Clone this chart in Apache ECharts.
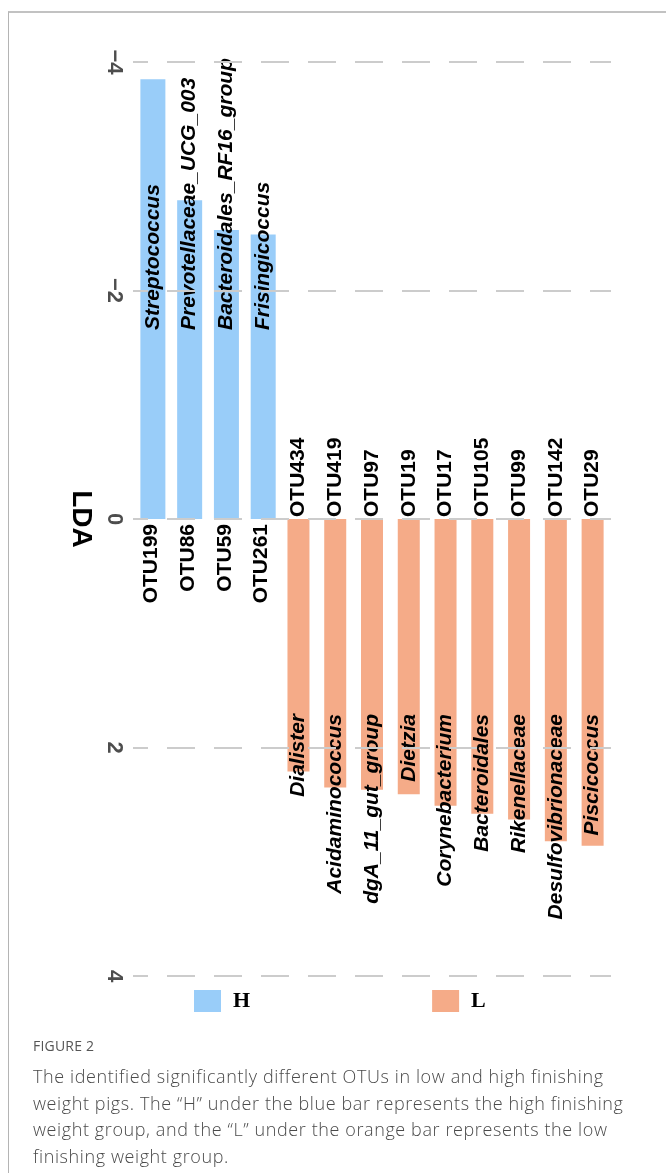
<!DOCTYPE html>
<html>
<head>
<meta charset="utf-8">
<script src="https://cdn.jsdelivr.net/npm/echarts@6/dist/echarts.min.js"></script>
<style>
  html, body { margin: 0; padding: 0; background: #fff; overflow: hidden; }
  body { width: 666px; height: 1173px; position: relative; }
  #frame { position: absolute; left: 8px; top: 11px; width: 700px; height: 1200px;
           border-left: 1px solid #b4b4b4; border-top: 2px solid #c2c2c2; }
  #chart { position: absolute; left: 0; top: 0; width: 666px; height: 1173px; }
  .fig { position: absolute; left: 33px; top: 1036px; font-family: "Open Sans", sans-serif;
         font-size: 14px; color: #555; letter-spacing: 0.2px; }
  .cap { position: absolute; left: 33px; top: 1063px; font-family: "Open Sans", sans-serif;
         font-weight: 300; font-size: 18px; letter-spacing: 0.6px; line-height: 26.7px;
         color: #4a4a4a; white-space: nowrap; }
</style>
</head>
<body>
<div id="frame"></div>
<div id="chart"></div>
<div class="fig">FIGURE 2</div>
<div class="cap">The identified significantly different OTUs in low and high finishing<br>weight pigs. The “H” under the blue bar represents the high finishing<br>weight group, and the “L” under the orange bar represents the low<br>finishing weight group.</div>
<script>
// OTUs in plotting order
const otuIds = ['OTU199', 'OTU86', 'OTU59', 'OTU261', 'OTU434', 'OTU419', 'OTU97',
                'OTU19', 'OTU17', 'OTU105', 'OTU99', 'OTU142', 'OTU29'];
// taxon annotation of each OTU
const genera = ['Streptococcus', 'Prevotellaceae_UCG_003', 'Bacteroidales_RF16_group', 'Frisingicoccus',
                'Dialister', 'Acidaminococcus', 'dgA_11_gut_group', 'Dietzia', 'Corynebacterium',
                'Bacteroidales', 'Rikenellaceae', 'Desulfovibrionaceae', 'Piscicoccus'];
// enriched group: H = high finishing weight, L = low finishing weight
const groups = ['H', 'H', 'H', 'H', 'L', 'L', 'L', 'L', 'L', 'L', 'L', 'L', 'L'];
// signed LDA scores (H negative, L positive)
const ldaScores = [-3.85, -2.79, -2.53, -2.49, 2.21, 2.35, 2.37, 2.41, 2.51, 2.58, 2.63, 2.82, 2.86];
// value-axis ticks
const ldaMin = -4, ldaMax = 4, ldaStep = 2;

const colorH = '#99cdf9';
const colorL = '#f5ab88';

const seriesData = g => ldaScores.map((v, i) => (groups[i] === g ? v : null));

const sans = 'Liberation Sans, Arial, sans-serif';
const labelFont = { fontFamily: sans, fontWeight: 'bold', fontSize: 21, color: '#000' };

// plot area (pixels)
const gridTop = 62, gridBottom = 197, gridHeight = 1173 - gridTop - gridBottom;
// shift the category label rows from the grid edges onto the LDA = 0 line
const zeroShift = -gridHeight * (0 - ldaMin) / (ldaMax - ldaMin);

const chart = echarts.init(document.getElementById('chart'), null, { renderer: 'canvas' });

chart.setOption({
  animation: false,
  grid: { left: 133, right: 55, top: gridTop, bottom: gridBottom, containLabel: false, outerBoundsMode: 'none' },
  legend: {
    data: ['H', 'L'],
    left: 194, top: 990, padding: 0,
    icon: 'rect', itemWidth: 27, itemHeight: 22, itemGap: 182,
    selectedMode: false,
    textStyle: { fontFamily: 'Liberation Serif, Times New Roman, serif', fontWeight: 'bold',
                 fontSize: 22, color: '#000', padding: [0, 0, 0, 7] }
  },
  xAxis: [
    {
      // OTU ids of the H group, hanging below the zero line
      type: 'category', data: otuIds, position: 'bottom', offset: zeroShift,
      axisLine: { show: false, onZero: false },
      axisTick: { show: false }, splitLine: { show: false },
      axisLabel: Object.assign({ rotate: 90, margin: 5, interval: 0,
        formatter: (v, i) => (groups[i] === 'H' ? v : '') }, labelFont)
    },
    {
      // OTU ids of the L group, standing above the zero line
      type: 'category', data: otuIds, position: 'top', offset: zeroShift,
      axisLine: { show: false, onZero: false },
      axisTick: { show: false }, splitLine: { show: false },
      axisLabel: Object.assign({ rotate: -90, margin: 2, interval: 0,
        formatter: (v, i) => (groups[i] === 'L' ? v : '') }, labelFont)
    }
  ],
  yAxis: {
    type: 'value', inverse: true, min: ldaMin, max: ldaMax, interval: ldaStep, z: 3,
    name: 'LDA', nameLocation: 'middle', nameGap: 36, nameRotate: -90,
    nameTextStyle: { fontFamily: sans, fontWeight: 'bold', fontSize: 28, color: '#000' },
    axisLine: { show: false }, axisTick: { show: false },
    axisLabel: { rotate: -90, margin: 8, fontFamily: sans, fontWeight: 'bold',
                 fontSize: 22, color: '#4d4d4d',
                 formatter: v => (v < 0 ? '\u2212' + (-v) : String(v)) },
    splitLine: { show: true, lineStyle: { color: '#cccccc', width: 2, type: [28, 19], dashOffset: 13 } }
  },
  series: [
    {
      name: 'H', type: 'bar', xAxisIndex: 0, barWidth: 25, barGap: '-100%',
      data: seriesData('H'),
      itemStyle: { color: colorH },
      emphasis: { disabled: true },
      label: Object.assign({ show: true, position: 'insideBottom', distance: 189, rotate: 90,
        align: 'left', verticalAlign: 'middle', fontStyle: 'italic',
        formatter: p => genera[p.dataIndex] }, labelFont)
    },
    {
      name: 'L', type: 'bar', xAxisIndex: 0, barWidth: 22, barGap: '-100%',
      data: seriesData('L'),
      itemStyle: { color: colorL },
      emphasis: { disabled: true },
      label: Object.assign({ show: true, position: 'insideTop', distance: 195, rotate: 90,
        align: 'right', verticalAlign: 'middle', fontStyle: 'italic',
        formatter: p => genera[p.dataIndex] }, labelFont)
    }
  ]
});
</script>
</body>
</html>
